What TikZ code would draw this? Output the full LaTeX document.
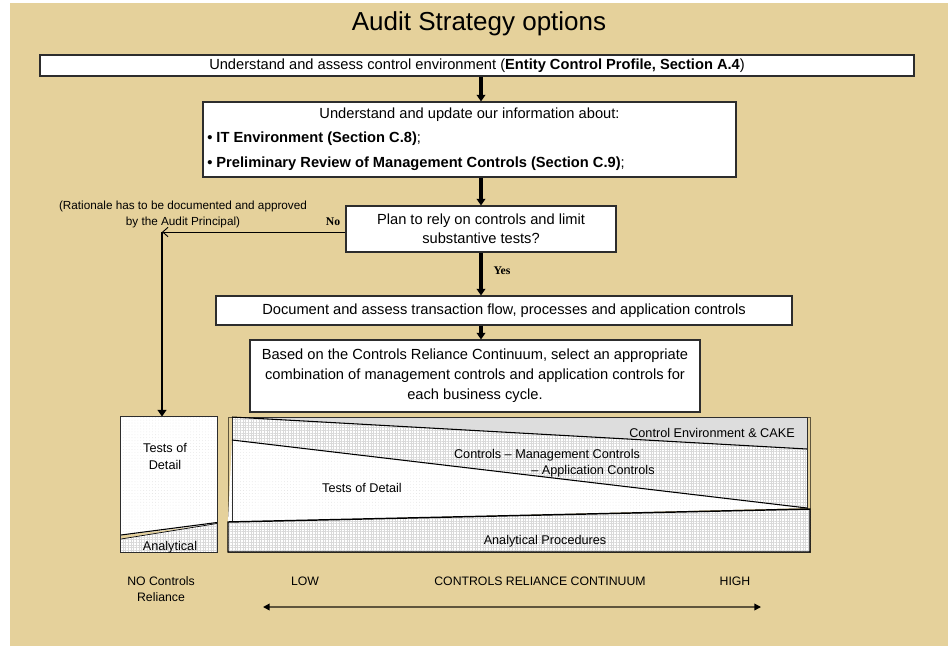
\documentclass[tikz,border=0pt]{standalone}
\usepackage{fontspec}
\setmainfont{Liberation Sans}
\newfontfamily\labelserif{Liberation Serif}
\usetikzlibrary{arrows.meta,patterns.meta}

\definecolor{bgtan}{RGB}{229,209,155}
\definecolor{wedgegray}{RGB}{221,221,221}
\definecolor{boxline}{RGB}{45,45,45}
\definecolor{axisline}{RGB}{95,85,60}

\begin{document}
\begin{tikzpicture}[x=0.75pt,y=-0.75pt,
  flowbox/.style={draw=boxline,line width=0.8pt,fill=white,inner sep=0pt},
  boxtext/.style={font=\fontsize{11}{14.5}\selectfont,align=center,inner sep=0pt},
  charttext/.style={font=\fontsize{9.5}{12.5}\selectfont,align=center,inner sep=0pt},
  axistext/.style={font=\fontsize{9.2}{12.5}\selectfont,align=center,inner sep=0pt},
  flow/.style={line width=2.4pt,-{Triangle[length=5pt,width=6.5pt]}},
  gridfill/.style={pattern={Hatch[distance=2pt,angle=0,line width=0.2pt]},pattern color=gray!30},
  dotfill/.style={pattern={Dots[distance=2.2pt,radius=0.25pt]},pattern color=gray!30},
  decision/.style={font=\labelserif\bfseries\fontsize{8.8}{10}\selectfont,inner sep=0pt}
]
\useasboundingbox (0,0) rectangle (948,646);
\fill[white] (0,0) rectangle (948,646);
\fill[bgtan] (10,3) rectangle (948,646);

% heading
\node[font=\fontsize{19.5}{22}\selectfont] (title) at (479,24) {Audit Strategy options};

% flow of decisions
\node[flowbox,minimum width=874*0.75pt,minimum height=21*0.75pt] (box1) at (477,65.5) {};
\node[boxtext] (box1txt) at (box1) {Understand and assess control environment (\textbf{Entity Control Profile, Section A.4})};

\node[flowbox,minimum width=533*0.75pt,minimum height=75*0.75pt] (box2) at (469.5,139.5) {};
\node[boxtext] (box2head) at (469.5,115) {Understand and update our information about:};
\node[boxtext,anchor=west] (box2a) at (207,139) {\textbf{\textbullet\ IT Environment (Section C.8)};};
\node[boxtext,anchor=west] (box2b) at (207,164) {\textbf{\textbullet\ Preliminary Review of Management Controls (Section C.9)};};

\node[flowbox,minimum width=270*0.75pt,minimum height=46*0.75pt] (box3) at (481,229) {};
\node[boxtext] (box3txt) at (box3) {Plan to rely on controls and limit\\substantive tests?};

\node[flowbox,minimum width=576*0.75pt,minimum height=29*0.75pt] (box4) at (504,310.5) {};
\node[boxtext] (box4txt) at (box4) {Document and assess transaction flow, processes and application controls};

\node[flowbox,minimum width=450*0.75pt,minimum height=72*0.75pt] (box5) at (475,376) {};
\node[boxtext,font=\fontsize{11}{15}\selectfont] (box5txt) at (box5) {Based on the Controls Reliance Continuum, select an appropriate\\combination of management controls and application controls for\\each business cycle.};

\coordinate (spine) at (481,0);
\draw[flow] (box1.south -| spine) -- (box2.north -| spine);
\draw[flow] (box2.south -| spine) -- (box3.north -| spine);
\draw[flow] (box3.south -| spine) -- (box4.north -| spine);
\draw[flow] (box4.south -| spine) -- (box5.north -| spine);

\node[decision] (yes) at (502,271) {Yes};
\node[decision] (no) at (333,222) {No};

% the "no" branch
\node[font=\fontsize{8.8}{12.5}\selectfont,align=center,inner sep=0pt] (rationale) at (183,214.5) {(Rationale has to be documented and approved\\by the Audit Principal)};

% columns of the continuum
\node[draw=boxline,line width=0.6pt,minimum width=96*0.75pt,minimum height=135*0.75pt,inner sep=0pt] (nobox) at (169,484.5) {};
\node[draw=axisline,line width=0.6pt,minimum width=582*0.75pt,minimum height=135*0.75pt,inner sep=0pt] (bigbox) at (519,484.5) {};

\coordinate (turn) at (162,232);
\draw[line width=0.7pt,-{Straight Barb[length=4pt,width=7pt]}] (box3.west |- turn) -- (turn);
\draw[line width=2.2pt,-{Triangle[length=5pt,width=6.5pt]}] (turn) -- (nobox.north -| turn);

% no-reliance column
\fill[white] (121,417) rectangle (217,552);
\fill[dotfill] (121,417) rectangle (217,552);
\fill[white] (121,537) -- (217,523) -- (217,552) -- (121,552) -- cycle;
\fill[gridfill] (121,537) -- (217,523) -- (217,552) -- (121,552) -- cycle;
\fill[bgtan] (121,535.6) -- (121,538.6) -- (195,526.6) -- cycle;
\draw[line width=0.8pt] (121,535) -- (217,522.5);
\draw[line width=0.5pt] (121,539) -- (217,523.5);
\draw[draw=boxline,line width=0.6pt] (nobox.north west) rectangle (nobox.south east);
\node[charttext] (ltests) at (165,456.5) {Tests of\\Detail};
\node[charttext] (lanal) at (170,547) {Analytical};

% reliance continuum
\fill[wedgegray] (232,417) -- (807,417) -- (807,449) -- cycle;
\fill[white] (232,417) -- (807,449) -- (807,508) -- (232,440) -- cycle;
\fill[gridfill] (232,417) -- (807,449) -- (807,508) -- (232,440) -- cycle;
\fill[white] (232,440) -- (807,508) -- (228,522) -- cycle;
\fill[dotfill] (232,440) -- (807,508) -- (228,522) -- cycle;
\draw[line width=0.5pt,draw=boxline] (232,522) -- (232,417) -- (807,417) -- (807,509);
\draw[line width=0.8pt] (232,417) -- (807,449);
\draw[line width=0.8pt] (232,440) -- (807,508);
\fill[white] (228,522) -- (810,509) -- (810,552) -- (228,552) -- cycle;
\fill[gridfill] (228,522) -- (810,509) -- (810,552) -- (228,552) -- cycle;
\draw[line width=1.1pt] (228,522) -- (810,509) -- (810,552) -- (228,552) -- cycle;

\node[charttext,anchor=east] (cake) at (795,433) {Control Environment \& CAKE};
\node[charttext] (ctrl1) at (547,455) {Controls -- Management Controls};
\node[charttext] (ctrl2) at (593,471.5) {-- Application Controls};
\node[charttext] (tod) at (362,488) {Tests of Detail};
\node[charttext] (anp) at (545,541.5) {Analytical Procedures};

% axis
\node[axistext] (noctrl) at (161,589) {NO Controls\\Reliance};
\node[axistext] (low) at (305,581) {LOW};
\node[axistext] (crc) at (540,581) {CONTROLS RELIANCE CONTINUUM};
\node[axistext] (high) at (735,581) {HIGH};
\coordinate (axl) at (263,607);
\coordinate (axr) at (761,607);
\draw[draw=axisline,line width=1.1pt,{Triangle[length=5pt,width=5pt,color=black]}-{Triangle[length=5pt,width=5pt,color=black]}] (axl) -- (axr);
\end{tikzpicture}
\end{document}
